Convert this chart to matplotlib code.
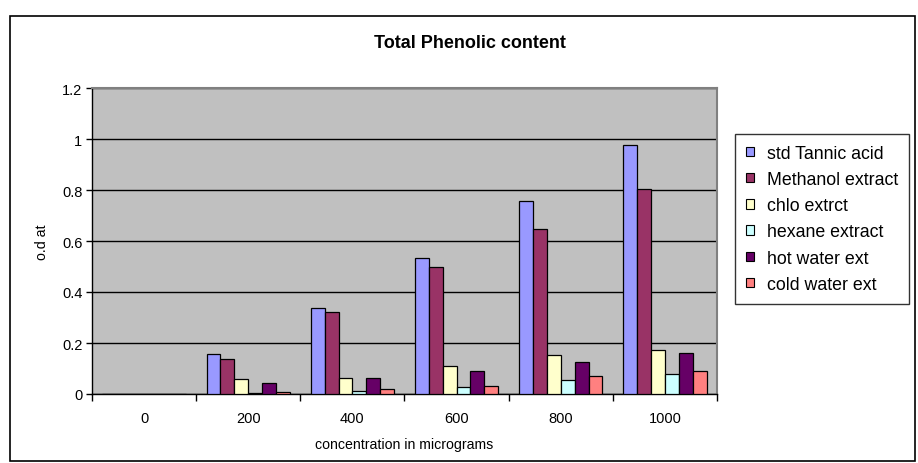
import matplotlib.pyplot as plt
import numpy as np
from matplotlib.patches import Rectangle

plt.rcParams["font.family"] = ["Liberation Sans", "DejaVu Sans"]

concentrations = ["0", "200", "400", "600", "800", "1000"]
series_names = [
    "std Tannic acid",
    "Methanol extract",
    "chlo extrct",
    "hexane extract",
    "hot water ext",
    "cold water ext",
]
std_tannic = [0, 0.157, 0.336, 0.534, 0.755, 0.978]
methanol = [0, 0.139, 0.322, 0.497, 0.646, 0.802]
chlo = [0, 0.059, 0.063, 0.110, 0.153, 0.172]
hexane = [0, 0.005, 0.013, 0.027, 0.053, 0.078]
hot_water = [0, 0.042, 0.064, 0.092, 0.124, 0.162]
cold_water = [0, 0.009, 0.018, 0.031, 0.069, 0.092]

colors = ["#9999FF", "#993366", "#FFFFCC", "#CCFFFF", "#660066", "#FF8080"]

W, H = 918, 464
fig = plt.figure(figsize=(W / 100, H / 100), dpi=100, facecolor="white")
ax = fig.add_axes([92 / W, (H - 395) / H, (717 - 92) / W, (395 - 89) / H])
ax.set_facecolor("#C0C0C0")

all_series = [std_tannic, methanol, chlo, hexane, hot_water, cold_water]
x = np.arange(len(concentrations))
bar_w = 1 / 7.5
for i, (name, vals, col) in enumerate(zip(series_names, all_series, colors)):
    ax.bar(x + (i - 2.5) * bar_w, vals, width=bar_w, color=col, edgecolor="black",
           linewidth=0.9, label=name, zorder=3)

ax.set_xlim(-0.5, len(concentrations) - 0.5)
ax.set_ylim(0, 1.2)
ax.set_yticks(np.arange(0, 1.21, 0.2))
ax.set_yticklabels(["0", "0.2", "0.4", "0.6", "0.8", "1", "1.2"], fontsize=10.5)
ax.set_xticks(x)
ax.set_xticklabels(concentrations, fontsize=10.5)
ax.set_xticks(np.arange(-0.5, len(concentrations), 1), minor=True)
ax.tick_params(axis="x", which="major", length=0, pad=12)
ax.tick_params(axis="x", which="minor", length=5, width=1, direction="out")
ax.tick_params(axis="y", length=4, width=1, direction="out", pad=3)

ax.grid(axis="y", color="black", linewidth=1.0, zorder=1)
ax.set_axisbelow(True)
for side in ["top", "right"]:
    ax.spines[side].set_color("#808080")
    ax.spines[side].set_linewidth(1.5)
for side in ["left", "bottom"]:
    ax.spines[side].set_color("black")
    ax.spines[side].set_linewidth(1.0)

ax.set_xlabel("concentration in micrograms", fontsize=10.2, labelpad=9)
ax.set_ylabel("o.d at", fontsize=10.2, labelpad=9)
fig.text(0.512, (H - 43) / H, "Total Phenolic content", ha="center", va="center",
         fontsize=13, fontweight="bold")

leg = ax.legend(loc="upper left", bbox_to_anchor=(735 / W, (H - 135) / H),
                bbox_transform=fig.transFigure, fontsize=12.8, frameon=True,
                fancybox=False, edgecolor="black", borderaxespad=0,
                handlelength=0.45, handleheight=0.45, handletextpad=0.75,
                labelspacing=0.52, borderpad=0.6)
leg.get_frame().set_linewidth(1.0)
for h in leg.legend_handles:
    h.set_linewidth(0.8)

fig.add_artist(Rectangle((10 / W, 2 / H), (915 - 10) / W, (447 - 2) / H,
                         transform=fig.transFigure, fill=False,
                         edgecolor="black", linewidth=1.2))

fig.savefig("out.png", dpi=100, facecolor="white")
